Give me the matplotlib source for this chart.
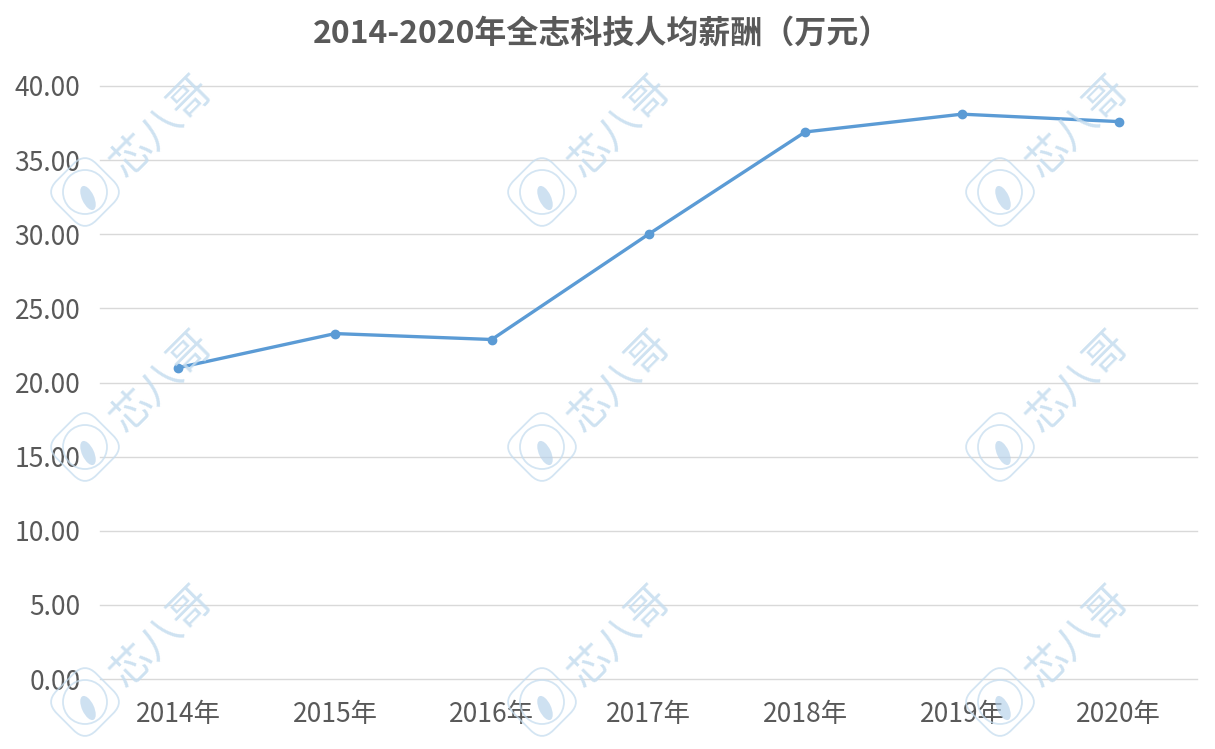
import numpy as np
import matplotlib as mpl
import matplotlib.pyplot as plt
from matplotlib.patches import FancyBboxPatch, Circle, Ellipse
from matplotlib.transforms import Affine2D

mpl.rcParams['font.family'] = ['Noto Sans CJK SC', 'DejaVu Sans']

# 数据
years = ['2014年', '2015年', '2016年', '2017年', '2018年', '2019年', '2020年']
salary = [21.0, 23.3, 22.9, 30.0, 36.9, 38.1, 37.6]
y_ticks = [0, 5, 10, 15, 20, 25, 30, 35, 40]

fig = plt.figure(figsize=(12.15, 7.49), dpi=100)
ax = fig.add_axes([100/1215, 1-679/749, 1097/1215, 593/749])

x = np.arange(len(years))
ax.plot(x, salary, color='#5b9bd5', linewidth=2.4, marker='o', markersize=6, zorder=3)

ax.set_xlim(-0.5, len(years)-0.5)
ax.set_ylim(0, 40)
ax.set_yticks(y_ticks)
ax.set_yticklabels(['%.2f' % v for v in y_ticks])
ax.set_xticks(x)
ax.set_xticklabels(years)
ax.tick_params(axis='both', length=0, labelsize=19, colors='#595959')
ax.tick_params(axis='y', pad=14)
ax.tick_params(axis='x', pad=16)
ax.grid(axis='y', color='#d9d9d9', linewidth=1)
for gl in ax.get_ygridlines():
    gl.set_clip_on(False)
ax.set_axisbelow(True)
for s in ax.spines.values():
    s.set_visible(False)

fig.text(602/1215, 1-34/749, '2014-2020年全志科技人均薪酬（万元）', ha='center', va='center',
         fontsize=23, fontweight='bold', color='#595959')

# 水印
wm = fig.add_axes([0, 0, 1, 1], zorder=5)
wm.set_xlim(0, 1215)
wm.set_ylim(749, 0)
wm.axis('off')
wm_color = '#c6ddef'
for cx in [162, 620, 1078]:
    for cy in [128, 383, 638]:
        wm.text(cx, cy, '芯八哥', rotation=45, ha='center', va='center',
                fontsize=30, color=wm_color, alpha=0.85)
for cx in [85, 542, 1000]:
    for cy in [192, 447, 702]:
        tr = Affine2D().rotate_deg_around(cx, cy, 45) + wm.transData
        box = FancyBboxPatch((cx-28, cy-28), 56, 56, boxstyle='round,pad=0,rounding_size=16',
                             fill=False, edgecolor=wm_color, linewidth=1.3, transform=tr, alpha=0.75)
        wm.add_patch(box)
        wm.add_patch(Circle((cx, cy), 22, fill=False, edgecolor=wm_color, linewidth=1.3, alpha=0.75))
        wm.add_patch(Ellipse((cx+3, cy+6), 12, 26, angle=-25, color='#b5d1ea', alpha=0.65, linewidth=0))

fig.savefig('out.png', dpi=100)
